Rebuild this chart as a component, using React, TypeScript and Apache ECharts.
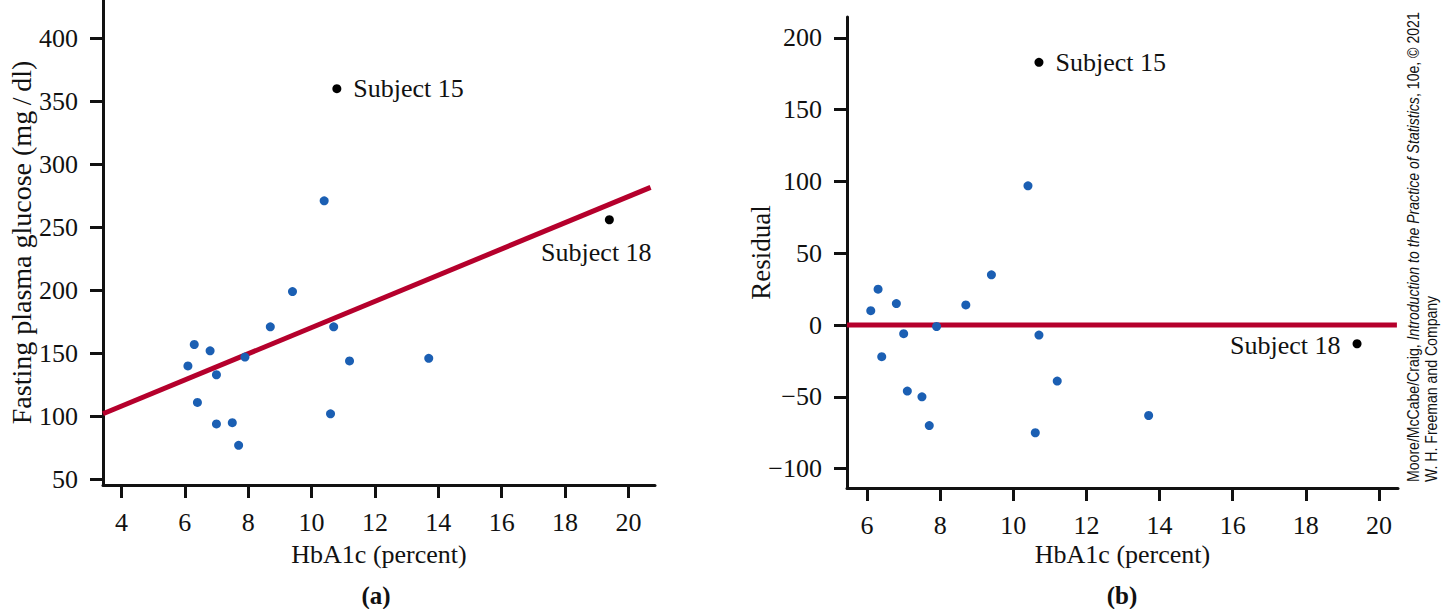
import React, { useEffect, useRef } from "react";
import * as echarts from "echarts";

// Panel (a): HbA1c vs fasting plasma glucose
const hba1cA = [6.1, 6.3, 6.4, 6.8, 7.0, 7.0, 7.5, 7.7, 7.9, 8.7, 9.4, 10.4, 10.6, 10.7, 11.2, 13.7];
const glucoseA = [140, 157, 111, 152, 133, 94, 95, 77, 147, 171, 199, 271, 102, 171, 144, 146];
const subjectNames = ["Subject 15", "Subject 18"];
const subjectXA = [10.8, 19.4];
const subjectYA = [360, 256];
const fitLineX = [3.42, 20.7];
const fitLineY = [102, 281.7];

// Panel (b): residuals
const hba1cB = [6.1, 6.3, 6.8, 7.0, 6.4, 7.1, 7.5, 7.7, 7.9, 8.7, 9.4, 10.4, 10.6, 10.7, 11.2, 13.7];
const residualB = [10, 25, 15, -6, -22, -46, -50, -70, -1, 14, 35, 97, -75, -7, -39, -63];
const subjectXB = [10.7, 19.4];
const subjectYB = [183, -13];
const zeroLineX = [5.45, 20.49];
const zeroLineY = [0, 0];

const ticksXA = [4, 6, 8, 10, 12, 14, 16, 18, 20];
const ticksYA = [50, 100, 150, 200, 250, 300, 350, 400];
const ticksXB = [6, 8, 10, 12, 14, 16, 18, 20];
const ticksYB = [-100, -50, 0, 50, 100, 150, 200];

const SERIF = "'Liberation Serif', 'DejaVu Serif', serif";
const SANS = "'Liberation Sans Narrow', 'Liberation Sans', sans-serif";
const BLUE = "#1b5fb3";
const RED = "#b5002c";
const INK = "#111111";
const FS = 26;

function zip(xs: number[], ys: number[]) {
  return xs.map((x, i) => [x, ys[i]]);
}

function axisCommon(ticks: number[]) {
  return {
    axisLine: { show: true, onZero: false, lineStyle: { color: INK, width: 3 } },
    axisTick: { show: true, inside: false, length: 13, customValues: ticks, lineStyle: { color: INK, width: 3 } },
    axisLabel: {
      customValues: ticks,
      fontFamily: SERIF,
      fontSize: FS,
      color: INK,
      formatter: (v: number) => String(v).replace("-", "\u2212"),
    },
    splitLine: { show: false },
    nameTextStyle: { fontFamily: SERIF, fontSize: FS, color: INK },
    nameLocation: "middle",
    nameMoveOverlap: false,
  };
}

export default function App() {
  const ref = useRef<HTMLDivElement>(null);
  useEffect(() => {
    if (!ref.current) return;
    const chart = echarts.init(ref.current, undefined, { renderer: "svg" });
    const xa = axisCommon(ticksXA);
    const ya = axisCommon(ticksYA);
    const xb = axisCommon(ticksXB);
    const yb = axisCommon(ticksYB);
    const subjLabel = (pos: string, dist: number, offset: number[]) => ({
      show: true,
      position: pos,
      distance: dist,
      offset,
      fontFamily: SERIF,
      fontSize: FS,
      color: INK,
      formatter: (p: any) => subjectNames[p.dataIndex],
    });
    chart.setOption({
      animation: false,
      backgroundColor: "#ffffff",
      grid: [
        { left: 103, top: 0, width: 552, height: 485, containLabel: false },
        { left: 847, top: 17, width: 551, height: 471, containLabel: false },
      ],
      xAxis: [
        {
          ...xa,
          type: "value",
          gridIndex: 0,
          min: 3.42,
          max: 20.84,
          name: "HbA1c (percent)",
          nameGap: 56,
          axisLabel: { ...xa.axisLabel, margin: 24 },
        },
        {
          ...xb,
          type: "value",
          gridIndex: 1,
          min: 5.45,
          max: 20.52,
          name: "HbA1c (percent)",
          nameGap: 53,
          axisLabel: { ...xb.axisLabel, margin: 24 },
        },
      ],
      yAxis: [
        {
          ...ya,
          type: "value",
          gridIndex: 0,
          min: 45.5,
          max: 430.4,
          name: "Fasting plasma glucose (mg\u2009/\u2009dl)",
          nameGap: 68,
          nameTextStyle: { fontFamily: SERIF, fontSize: 28, color: INK },
          axisLabel: { ...ya.axisLabel, margin: 25 },
        },
        {
          ...yb,
          type: "value",
          gridIndex: 1,
          min: -113.5,
          max: 214.6,
          name: "Residual",
          nameGap: 73,
          nameTextStyle: { fontFamily: SERIF, fontSize: 27, color: INK },
          axisLabel: { ...yb.axisLabel, margin: 25 },
        },
      ],
      series: [
        {
          type: "line",
          xAxisIndex: 0,
          yAxisIndex: 0,
          data: zip(fitLineX, fitLineY),
          showSymbol: false,
          lineStyle: { color: RED, width: 5 },
          z: 2,
          silent: true,
        },
        {
          type: "scatter",
          xAxisIndex: 0,
          yAxisIndex: 0,
          data: zip(hba1cA, glucoseA),
          symbolSize: 9,
          itemStyle: { color: BLUE, opacity: 1 },
          z: 3,
        },
        {
          type: "scatter",
          xAxisIndex: 0,
          yAxisIndex: 0,
          data: [
            { value: [subjectXA[0], subjectYA[0]], label: subjLabel("right", 12, [0, 0]) },
            { value: [subjectXA[1], subjectYA[1]], label: subjLabel("bottom", 15, [-13, 0]) },
          ],
          symbolSize: 9,
          itemStyle: { color: "#000000", opacity: 1 },
          z: 3,
        },
        {
          type: "line",
          xAxisIndex: 1,
          yAxisIndex: 1,
          data: zip(zeroLineX, zeroLineY),
          showSymbol: false,
          lineStyle: { color: RED, width: 5 },
          z: 2,
          silent: true,
        },
        {
          type: "scatter",
          xAxisIndex: 1,
          yAxisIndex: 1,
          data: zip(hba1cB, residualB),
          symbolSize: 9,
          itemStyle: { color: BLUE, opacity: 1 },
          z: 3,
        },
        {
          type: "scatter",
          xAxisIndex: 1,
          yAxisIndex: 1,
          data: [
            { value: [subjectXB[0], subjectYB[0]], label: subjLabel("right", 12, [0, 0]) },
            { value: [subjectXB[1], subjectYB[1]], label: subjLabel("left", 12, [0, 2]) },
          ],
          symbolSize: 9,
          itemStyle: { color: "#000000", opacity: 1 },
          z: 3,
        },
      ],
      graphic: [
        {
          type: "text",
          x: 376,
          y: 595,
          style: {
            text: "(a)",
            fontFamily: SERIF,
            fontSize: 25,
            fontWeight: "bold",
            fill: INK,
            textAlign: "center",
            textVerticalAlign: "middle",
          },
        },
        {
          type: "text",
          x: 1122,
          y: 595,
          style: {
            text: "(b)",
            fontFamily: SERIF,
            fontSize: 25,
            fontWeight: "bold",
            fill: INK,
            textAlign: "center",
            textVerticalAlign: "middle",
          },
        },
        {
          type: "text",
          x: 1413,
          y: 482,
          rotation: Math.PI / 2,
          scaleX: 0.88,
          style: {
            text: "{n|Moore/McCabe/Craig, }{i|Introduction to the Practice of Statistics}{n|, 10e, \u00a9 2021}",
            textAlign: "left",
            textVerticalAlign: "middle",
            rich: {
              n: { fontFamily: SANS, fontSize: 16, fill: INK },
              i: { fontFamily: SANS, fontSize: 16, fontStyle: "italic", fill: INK },
            },
          },
        },
        {
          type: "text",
          x: 1431,
          y: 482,
          rotation: Math.PI / 2,
          scaleX: 0.88,
          style: {
            text: "W. H. Freeman and Company",
            fontFamily: SANS,
            fontSize: 16,
            fill: INK,
            textAlign: "left",
            textVerticalAlign: "middle",
          },
        },
      ],
    });
    return () => chart.dispose();
  }, []);
  return (
    <div
      ref={ref}
      style={{ position: "fixed", left: 0, top: 0, width: 1443, height: 609, background: "#fff" }}
    />
  );
}
